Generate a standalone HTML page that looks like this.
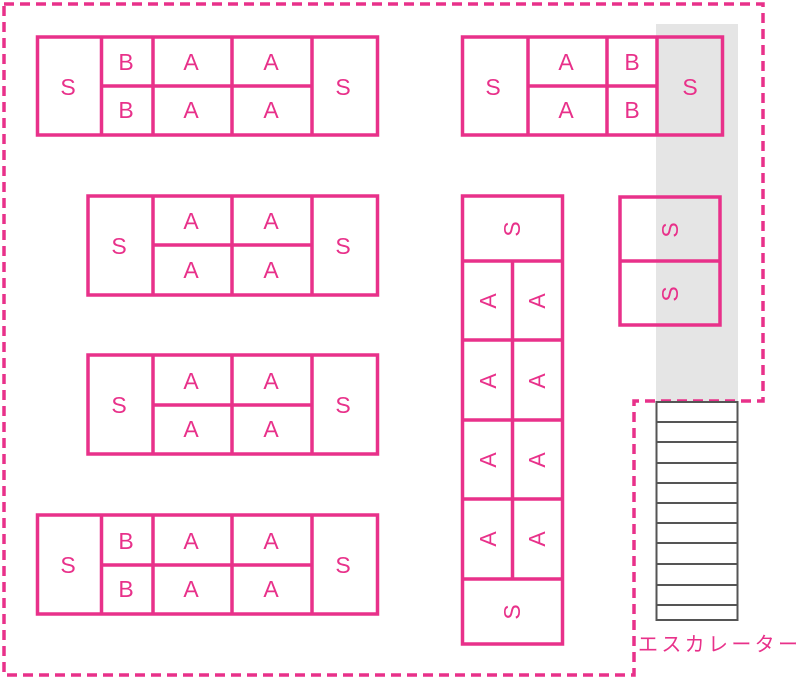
<!DOCTYPE html>
<html><head><meta charset="utf-8"><style>
html,body{margin:0;padding:0;background:#fff;}
svg{display:block;}
text{font-family:"Liberation Sans","Noto Sans CJK JP",sans-serif;fill:#e8318a;font-size:23px;text-anchor:middle;dominant-baseline:central;}
</style></head><body>
<svg width="800" height="680" viewBox="0 0 800 680" xmlns="http://www.w3.org/2000/svg">
<rect x="656" y="24" width="82" height="377" fill="#e5e5e5"/>
<path d="M4 4 H763 V401 H634 V675 H4 Z" fill="none" stroke="#e8318a" stroke-width="3.5" stroke-dasharray="10 6"/>
<g fill="none" stroke="#e8318a" stroke-width="3.5">
<rect x="37.5" y="37" width="340" height="98"/>
<path d="M101.5 37V135 M153 37V135 M232 37V135 M312 37V135 M101.5 86H312"/>
<rect x="88" y="196" width="289.5" height="99"/>
<path d="M153 196V295 M232 196V295 M312 196V295 M153 245H312"/>
<rect x="88" y="355" width="289.5" height="99"/>
<path d="M153 355V454 M232 355V454 M312 355V454 M153 405H312"/>
<rect x="37.5" y="515" width="340" height="99"/>
<path d="M101.5 515V614 M153 515V614 M232 515V614 M312 515V614 M101.5 565H312"/>
<rect x="462.5" y="37" width="260" height="98"/>
<path d="M528 37V135 M607 37V135 M657 37V135 M528 86H657"/>
<rect x="462.5" y="196" width="100" height="448"/>
<path d="M462.5 261H562.5 M462.5 340H562.5 M462.5 420H562.5 M462.5 499H562.5 M462.5 579H562.5 M512.5 261V579"/>
<rect x="620" y="197" width="100" height="128"/>
<path d="M620 261H720"/>
</g>
<g fill="#fff" stroke="#555" stroke-width="2">
<rect x="656.5" y="402" width="81" height="218"/>
<path d="M656.5 422H737.5 M656.5 442H737.5 M656.5 463H737.5 M656.5 483H737.5 M656.5 503H737.5 M656.5 523H737.5 M656.5 543H737.5 M656.5 564H737.5 M656.5 585H737.5 M656.5 605H737.5"/>
</g>
<text x="68" y="87">S</text><text x="126" y="62">B</text><text x="126" y="110">B</text>
<text x="191" y="62">A</text><text x="191" y="110">A</text><text x="271" y="62">A</text><text x="271" y="110">A</text><text x="343" y="87">S</text>
<text x="119" y="246">S</text><text x="191" y="221">A</text><text x="191" y="270">A</text><text x="271" y="221">A</text><text x="271" y="270">A</text><text x="343" y="246">S</text>
<text x="119" y="405">S</text><text x="191" y="381">A</text><text x="191" y="429">A</text><text x="271" y="381">A</text><text x="271" y="429">A</text><text x="343" y="405">S</text>
<text x="68" y="565">S</text><text x="126" y="541">B</text><text x="126" y="589">B</text>
<text x="191" y="541">A</text><text x="191" y="589">A</text><text x="271" y="541">A</text><text x="271" y="589">A</text><text x="343" y="565">S</text>
<text x="493" y="87">S</text><text x="566" y="62">A</text><text x="566" y="110">A</text><text x="632" y="62">B</text><text x="632" y="110">B</text><text x="690" y="87">S</text>
<text x="512" y="229" transform="rotate(-90 512 229)">S</text>
<text x="488" y="301" transform="rotate(-90 488 301)">A</text><text x="537" y="301" transform="rotate(-90 537 301)">A</text>
<text x="488" y="381" transform="rotate(-90 488 381)">A</text><text x="537" y="381" transform="rotate(-90 537 381)">A</text>
<text x="488" y="460" transform="rotate(-90 488 460)">A</text><text x="537" y="460" transform="rotate(-90 537 460)">A</text>
<text x="488" y="539" transform="rotate(-90 488 539)">A</text><text x="537" y="539" transform="rotate(-90 537 539)">A</text>
<text x="512" y="612" transform="rotate(-90 512 612)">S</text>
<text x="670" y="230" transform="rotate(-90 670 230)">S</text>
<text x="670" y="294" transform="rotate(-90 670 294)">S</text>
<text x="718" y="645" textLength="160" lengthAdjust="spacing" style="font-size:20px">エスカレーター</text>
</svg>
</body></html>
